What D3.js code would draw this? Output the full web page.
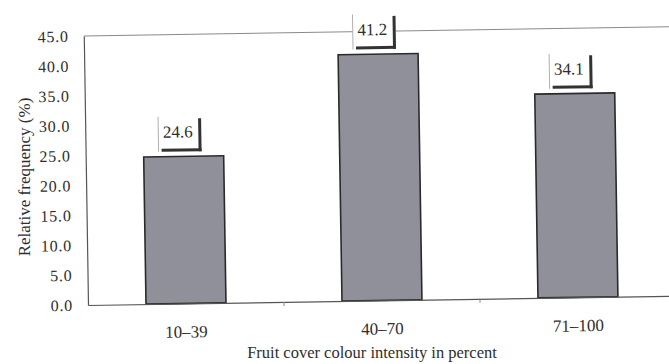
<!DOCTYPE html>
<html>
<head>
<meta charset="utf-8">
<script src="https://cdn.jsdelivr.net/npm/d3@7/dist/d3.min.js"></script>
<style>
  html, body { margin: 0; padding: 0; background: #ffffff; }
  svg { display: block; }
  text { font-family: "Liberation Serif", "DejaVu Serif", serif; fill: #2e2e2e; }
</style>
</head>
<body>
<svg id="chart" width="669" height="364"></svg>
<script>
// ---- data ----
const categories = ["10\u201339", "40\u201370", "71\u2013100"];
const values = [24.6, 41.2, 34.1];
const valueLabels = ["24.6", "41.2", "34.1"];
const yTicks = [0, 5, 10, 15, 20, 25, 30, 35, 40, 45];
const yTitle = "Relative frequency (%)";
const xTitle = "Fruit cover colour intensity in percent";

// ---- layout ----
const plotLeft = 88, plotBottom = 305, plotTop = 36, plotRight = 676;

const svg = d3.select("#chart");

// scanned page is slightly tilted
const g = svg.append("g").attr("transform", `rotate(-0.9, ${plotLeft}, ${plotBottom})`);

const x = d3.scaleBand().domain(categories).range([plotLeft, plotRight])
  .paddingInner(0.592).paddingOuter(0.296);
const y = d3.scaleLinear().domain([0, 45]).range([plotBottom, plotTop]);

// top frame line
g.append("line")
  .attr("x1", plotLeft).attr("x2", plotRight)
  .attr("y1", y(45)).attr("y2", y(45))
  .attr("stroke", "#8a8a8a").attr("stroke-width", 1);

// left axis
const yAxis = d3.axisLeft(y).tickValues(yTicks).tickFormat(d3.format(".1f"))
  .tickSize(0).tickPadding(15);
const ya = g.append("g").attr("transform", `translate(${plotLeft},0)`).call(yAxis);
ya.select(".domain").attr("stroke", "#555").attr("stroke-width", 1.2);
ya.selectAll("text")
  .style("font-family", '"Liberation Serif", serif')
  .style("font-size", "16px").style("letter-spacing", "0.8px")
  .attr("fill", "#333");

// bars
g.selectAll("rect.bar").data(values).enter().append("rect")
  .attr("class", "bar")
  .attr("x", (d, i) => x(categories[i]))
  .attr("width", x.bandwidth())
  .attr("y", d => y(d))
  .attr("height", d => plotBottom - y(d))
  .attr("fill", "#90909a")
  .attr("stroke", "#2a2a2a")
  .attr("stroke-width", 1.6);

// bottom axis
const xAxis = d3.axisBottom(x).tickSize(0).tickPadding(22);
const xa = g.append("g").attr("transform", `translate(0,${plotBottom})`).call(xAxis);
xa.select(".domain").attr("stroke", "#555").attr("stroke-width", 1.2);
xa.selectAll("text")
  .style("font-family", '"Liberation Serif", serif')
  .style("font-size", "17px").attr("fill", "#333");

// small ticks between categories
const boundaries = categories.slice(1).map(c => x(c) - (x.step() - x.bandwidth()) / 2);
g.selectAll("line.sep").data(boundaries).enter().append("line")
  .attr("class", "sep")
  .attr("x1", d => d).attr("x2", d => d)
  .attr("y1", plotBottom).attr("y2", plotBottom + 4)
  .attr("stroke", "#888").attr("stroke-width", 1);

// value label boxes (shadowed callouts)
const boxW = 43, boxH = 35, gap = 5;
const lab = g.selectAll("g.lab").data(values).enter().append("g").attr("class", "lab");
lab.each(function (d, i) {
  const cx = x(categories[i]) + x.bandwidth() / 2;
  const bx = cx - 25;
  const by1 = y(d) - gap;
  const by0 = by1 - boxH;
  const s = d3.select(this);
  s.append("rect").attr("x", bx).attr("y", by0).attr("width", boxW).attr("height", boxH)
    .attr("fill", "#ffffff");
  s.append("line").attr("x1", bx).attr("x2", bx).attr("y1", by0).attr("y2", by1)
    .attr("stroke", "#b0b0b0").attr("stroke-width", 1);
  s.append("line").attr("x1", bx + boxW - 1.5).attr("x2", bx + boxW - 1.5)
    .attr("y1", by0 + 2).attr("y2", by1)
    .attr("stroke", "#333").attr("stroke-width", 3);
  s.append("line").attr("x1", bx + 3).attr("x2", bx + boxW)
    .attr("y1", by1 - 1.5).attr("y2", by1 - 1.5)
    .attr("stroke", "#333").attr("stroke-width", 3);
  s.append("text").attr("x", cx - 5.5).attr("y", by1 - 14)
    .attr("text-anchor", "middle")
    .style("font-size", "17px").attr("fill", "#333")
    .text(valueLabels[i]);
});

// axis titles
svg.append("text")
  .attr("transform", "translate(30,177) rotate(-90)")
  .attr("text-anchor", "middle")
  .style("font-size", "17px").attr("fill", "#333")
  .text(yTitle);

svg.append("text")
  .attr("x", 372).attr("y", 358)
  .attr("text-anchor", "middle")
  .style("font-size", "16.5px").attr("fill", "#333")
  .text(xTitle);
</script>
</body>
</html>
